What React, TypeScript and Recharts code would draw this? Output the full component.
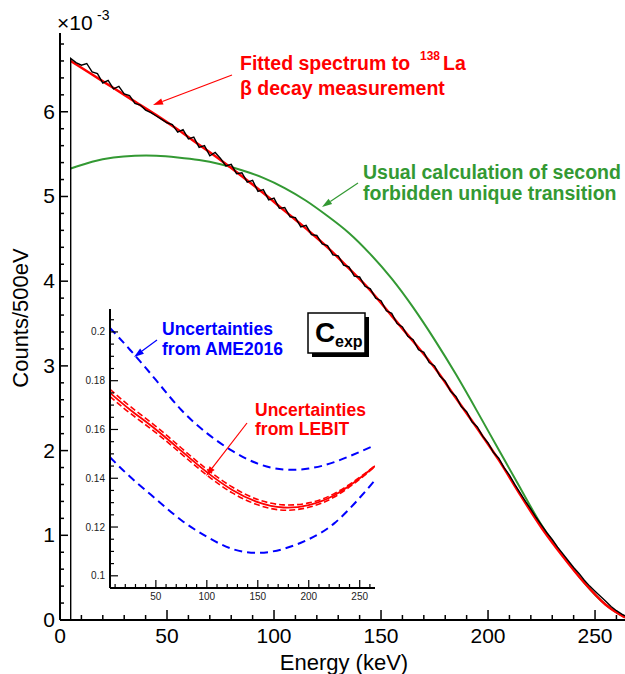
import {ComposedChart, Line, XAxis, YAxis} from 'recharts';

// main spectrum (Counts/500eV, in units of 1e-3)
const fitEnergy = [5, 15, 25, 35, 45, 55, 65, 75, 85, 95, 105, 115, 125, 135, 145, 155, 165, 175, 185, 195, 205, 215, 225, 235, 245, 255, 264];
const fitCounts = [6.60, 6.44, 6.28, 6.12, 5.96, 5.79, 5.61, 5.43, 5.24, 5.04, 4.83, 4.62, 4.40, 4.15, 3.89, 3.59, 3.29, 2.98, 2.62, 2.26, 1.89, 1.48, 1.09, 0.75, 0.44, 0.18, 0.03];
const calcCounts = [5.33, 5.41, 5.46, 5.48, 5.48, 5.46, 5.43, 5.38, 5.31, 5.22, 5.10, 4.95, 4.77, 4.57, 4.32, 4.03, 3.69, 3.31, 2.90, 2.46, 2.01, 1.56, 1.12, 0.76, 0.44, 0.18, 0.03];

const histEnergy = [5, 7.5, 10, 12.5, 15, 17.5, 20, 22.5, 25, 27.5, 30, 32.5, 35, 37.5, 40, 42.5, 45, 47.5, 50, 52.5,
  55, 57.5, 60, 62.5, 65, 67.5, 70, 72.5, 75, 77.5, 80, 82.5, 85, 87.5, 90, 92.5, 95, 97.5, 100, 102.5,
  105, 107.5, 110, 112.5, 115, 117.5, 120, 122.5, 125, 127.5, 130, 132.5, 135, 137.5, 140, 142.5, 145, 147.5, 150, 152.5,
  155, 157.5, 160, 162.5, 165, 167.5, 170, 172.5, 175, 177.5, 180, 182.5, 185, 187.5, 190, 192.5, 195, 197.5, 200, 202.5,
  205, 207.5, 210, 212.5, 215, 217.5, 220, 222.5, 225, 227.5, 230, 232.5, 235, 237.5, 240, 242.5, 245, 247.5, 250, 252.5,
  255, 257.5, 260, 262.5, 264];
const histCounts = [6.63, 6.58, 6.55, 6.57, 6.47, 6.45, 6.34, 6.37, 6.27, 6.30, 6.21, 6.19, 6.10, 6.08, 6.02, 5.99, 5.95, 5.91, 5.87, 5.85,
  5.76, 5.79, 5.68, 5.70, 5.58, 5.60, 5.48, 5.52, 5.45, 5.36, 5.38, 5.27, 5.28, 5.17, 5.19, 5.06, 5.08, 4.96, 4.98, 4.86,
  4.87, 4.76, 4.75, 4.64, 4.66, 4.55, 4.54, 4.44, 4.42, 4.31, 4.30, 4.19, 4.17, 4.06, 4.05, 3.94, 3.91, 3.80, 3.77, 3.65,
  3.62, 3.50, 3.46, 3.35, 3.31, 3.19, 3.16, 3.04, 3.00, 2.88, 2.82, 2.70, 2.64, 2.52, 2.46, 2.34, 2.28, 2.17, 2.09, 1.98,
  1.91, 1.80, 1.71, 1.60, 1.50, 1.40, 1.31, 1.21, 1.12, 1.03, 0.95, 0.86, 0.78, 0.70, 0.62, 0.55, 0.47, 0.40, 0.34, 0.28,
  0.22, 0.16, 0.11, 0.07, 0.05];

const mainXTicks = [0, 10, 20, 30, 40, 50, 60, 70, 80, 90, 100, 110, 120, 130, 140, 150, 160, 170, 180, 190, 200, 210, 220, 230, 240, 250, 260];
const mainYTicks = [0, 0.2, 0.4, 0.6, 0.8, 1, 1.2, 1.4, 1.6, 1.8, 2, 2.2, 2.4, 2.6, 2.8, 3, 3.2, 3.4, 3.6, 3.8, 4, 4.2, 4.4, 4.6, 4.8, 5, 5.2, 5.4, 5.6, 5.8, 6, 6.2, 6.4, 6.6, 6.8];

// inset: C_exp
const insetEnergy = [5, 25, 50, 75, 100, 125, 150, 175, 200, 225, 250, 265];
const lebitMid = [0.1750, 0.1680, 0.1600, 0.1512, 0.1425, 0.1352, 0.1302, 0.1280, 0.1290, 0.1330, 0.1400, 0.1450];
const lebitHigh = [0.1765, 0.1694, 0.1613, 0.1524, 0.1437, 0.1364, 0.1313, 0.1291, 0.1299, 0.1337, 0.1404, 0.1452];
const lebitLow = [0.1735, 0.1666, 0.1587, 0.1500, 0.1413, 0.1340, 0.1291, 0.1269, 0.1281, 0.1323, 0.1396, 0.1448];
const ameHigh = [0.2016, 0.1925, 0.1803, 0.1680, 0.1585, 0.1512, 0.1460, 0.1436, 0.1440, 0.1466, 0.1508, 0.1535];
const ameLow = [0.1486, 0.1405, 0.1315, 0.1228, 0.1160, 0.1110, 0.1094, 0.1110, 0.1150, 0.1215, 0.1320, 0.1392];

const insetXTicks = [10, 20, 30, 40, 50, 60, 70, 80, 90, 100, 110, 120, 130, 140, 150, 160, 170, 180, 190, 200, 210, 220, 230, 240, 250, 260];
const insetYTicks = [0.1, 0.105, 0.11, 0.115, 0.12, 0.125, 0.13, 0.135, 0.14, 0.145, 0.15, 0.155, 0.16, 0.165, 0.17, 0.175, 0.18, 0.185, 0.19, 0.195, 0.2, 0.205];
const insetYLabels = ['0.1', '0.12', '0.14', '0.16', '0.18', '0.2'];

const FONT = '"Liberation Sans", Arial, Helvetica, sans-serif';
const GREEN = '#339933';

const fitData = fitEnergy.map((e, i) => ({e, v: fitCounts[i]}));
const calcData = fitEnergy.map((e, i) => ({e, v: calcCounts[i]}));
const histData = [{e: histEnergy[0], v: 0}, ...histEnergy.map((e, i) => ({e, v: histCounts[i]}))];
const insetData = insetEnergy.map((e, i) => ({
    e, mid: lebitMid[i], hi: lebitHigh[i], lo: lebitLow[i], ameHi: ameHigh[i], ameLo: ameLow[i],
}));

const frame = {stroke: '#000', strokeWidth: 2};

const MainXTick = ({x, y, payload}: any) => {
    const major = payload.value % 50 === 0;
    return (
        <g>
            <line x1={x} y1={y} x2={x} y2={y - (major ? 10 : 5)} stroke="#000" strokeWidth={1.5}/>
            {major && <text x={x} y={y + 23} textAnchor="middle" fontSize={21} fontFamily={FONT} fill="#000">{payload.value}</text>}
        </g>
    );
};

const MainYTick = ({x, y, payload}: any) => {
    const major = Math.abs(payload.value - Math.round(payload.value)) < 1e-6;
    return (
        <g>
            <line x1={x} y1={y} x2={x + (major ? 8 : 4)} y2={y} stroke="#000" strokeWidth={1.5}/>
            {major && <text x={x - 5} y={y + 7} textAnchor="end" fontSize={21} fontFamily={FONT} fill="#000">{Math.round(payload.value)}</text>}
        </g>
    );
};

const InsetXTick = ({x, y, payload}: any) => {
    const major = payload.value % 50 === 0;
    return (
        <g>
            <line x1={x} y1={y} x2={x} y2={y - (major ? 8 : 4)} stroke="#000" strokeWidth={1.2}/>
            {major && <text x={x} y={y + 12} textAnchor="middle" fontSize={10} fontFamily={FONT} fill="#222">{payload.value}</text>}
        </g>
    );
};

const InsetYTick = ({x, y, payload}: any) => {
    const label = insetYLabels.find(l => Math.abs(parseFloat(l) - payload.value) < 1e-6);
    return (
        <g>
            <line x1={x} y1={y} x2={x + (label ? 8 : 4)} y2={y} stroke="#000" strokeWidth={1.2}/>
            {label && <text x={x - 5} y={y + 3.5} textAnchor="end" fontSize={10} fontFamily={FONT} fill="#222">{label}</text>}
        </g>
    );
};

function Arrow({x1, y1, x2, y2, color, head = 10}: { x1: number, y1: number, x2: number, y2: number, color: string, head?: number }) {
    const a = Math.atan2(y2 - y1, x2 - x1);
    const w = head * 0.32;
    const bx = x2 - head * Math.cos(a);
    const by = y2 - head * Math.sin(a);
    const pts = `${x2},${y2} ${bx + w * Math.sin(a)},${by - w * Math.cos(a)} ${bx - w * Math.sin(a)},${by + w * Math.cos(a)}`;
    return (
        <g>
            <line x1={x1} y1={y1} x2={bx} y2={by} stroke={color} strokeWidth={1.2}/>
            <polygon points={pts} fill={color}/>
        </g>
    );
}

export default function App() {
    return (
        <div style={{position: 'absolute', left: 0, top: 0, width: 625, height: 674, background: '#fff', overflow: 'hidden'}}>
            <div style={{position: 'absolute', left: 0, top: 0}}>
                <ComposedChart width={625} height={674} margin={{top: 33, right: 0, left: 0, bottom: 0}}>
                    <XAxis dataKey="e" type="number" domain={[0, 264]} allowDataOverflow ticks={mainXTicks} interval={0}
                           tickSize={0} tickMargin={0} tick={<MainXTick/>} height={54} axisLine={frame} tickLine={false}/>
                    <XAxis xAxisId="top" orientation="top" type="number" domain={[0, 264]} height={0} tick={false}
                           tickLine={false} axisLine={frame}/>
                    <YAxis type="number" domain={[0, 6.93]} allowDataOverflow ticks={mainYTicks} interval={0} width={60}
                           tickSize={0} tickMargin={0} tick={<MainYTick/>} axisLine={frame} tickLine={false}/>
                    <Line data={calcData} dataKey="v" type="natural" stroke={GREEN} strokeWidth={2} dot={false} isAnimationActive={false}/>
                    <Line data={fitData} dataKey="v" type="monotone" stroke="#ff0000" strokeWidth={2.5} dot={false} isAnimationActive={false}/>
                    <Line data={histData} dataKey="v" type="linear" stroke="#000" strokeWidth={1.4} dot={false} isAnimationActive={false}/>
                </ComposedChart>
            </div>
            <div style={{position: 'absolute', left: 60, top: 300}}>
                <ComposedChart width={330} height={320} data={insetData} margin={{top: 9, right: 15, left: 0, bottom: 0}}>
                    <XAxis dataKey="e" type="number" domain={[5, 265]} allowDataOverflow ticks={insetXTicks} interval={0}
                           tickSize={0} tickMargin={0} tick={<InsetXTick/>} height={32} axisLine={frame} tickLine={false}/>
                    <XAxis xAxisId="top" orientation="top" type="number" domain={[5, 265]} height={0} tick={false}
                           tickLine={false} axisLine={frame}/>
                    <YAxis type="number" domain={[0.095, 0.2094]} allowDataOverflow ticks={insetYTicks} interval={0} width={50}
                           tickSize={0} tickMargin={0} tick={<InsetYTick/>} axisLine={frame} tickLine={false}/>
                    <YAxis yAxisId="right" orientation="right" type="number" domain={[0.095, 0.2094]} width={0} tick={false}
                           tickLine={false} axisLine={frame}/>
                    <Line dataKey="ameHi" type="natural" stroke="#0000ff" strokeWidth={2} strokeDasharray="8 5" dot={false} isAnimationActive={false}/>
                    <Line dataKey="ameLo" type="natural" stroke="#0000ff" strokeWidth={2} strokeDasharray="8 5" dot={false} isAnimationActive={false}/>
                    <Line dataKey="hi" type="natural" stroke="#ff0000" strokeWidth={1.6} strokeDasharray="6 3" dot={false} isAnimationActive={false}/>
                    <Line dataKey="lo" type="natural" stroke="#ff0000" strokeWidth={1.6} strokeDasharray="6 3" dot={false} isAnimationActive={false}/>
                    <Line dataKey="mid" type="natural" stroke="#ff0000" strokeWidth={1.8} dot={false} isAnimationActive={false}/>
                </ComposedChart>
            </div>
            <svg width={625} height={674} style={{position: 'absolute', left: 0, top: 0, pointerEvents: 'none'}} fontFamily={FONT}>
                <text x={57} y={30} fontSize={21} fill="#000">×10</text>
                <text x={97} y={20} fontSize={14} fill="#000">-3</text>
                <text x={20} y={318} fontSize={22} fill="#000" textAnchor="middle" dominantBaseline="central"
                      transform="rotate(-90 20 318)">Counts/500eV</text>
                <text x={344} y={670} fontSize={22} fill="#000" textAnchor="middle">Energy (keV)</text>

                <g fill="#ff0000" fontWeight="bold">
                    <text x={240} y={70} fontSize={19.5}>Fitted spectrum to</text>
                    <text x={420} y={60} fontSize={12}>138</text>
                    <text x={443} y={70} fontSize={19.5}>La</text>
                    <text x={240} y={95} fontSize={19.5}>β decay measurement</text>
                </g>
                <Arrow x1={232} y1={75} x2={153} y2={105} color="#ff0000"/>

                <g fill={GREEN} fontWeight="bold" fontSize={19.5}>
                    <text x={363} y={179}>Usual calculation of second</text>
                    <text x={363} y={200}>forbidden unique transition</text>
                </g>
                <Arrow x1={358} y1={183} x2={322} y2={207} color={GREEN}/>

                <g fill="#0000ff" fontWeight="bold" fontSize={17.5}>
                    <text x={162} y={335}>Uncertainties</text>
                    <text x={162} y={355}>from AME2016</text>
                </g>
                <Arrow x1={157} y1={340} x2={134} y2={357} color="#0000ff"/>

                <g fill="#ff0000" fontWeight="bold" fontSize={17.5}>
                    <text x={255} y={416}>Uncertainties</text>
                    <text x={255} y={435}>from LEBIT</text>
                </g>
                <Arrow x1={247} y1={423} x2={206} y2={476} color="#ff0000"/>

                <rect x={312} y={317} width={57} height={40} fill="#000"/>
                <rect x={308} y={313} width={57} height={40} fill="#fff" stroke="#000" strokeWidth={1.5}/>
                <text x={315} y={342} fontSize={28} fontWeight="bold" fill="#000">C</text>
                <text x={335} y={347} fontSize={16} fontWeight="bold" fill="#000">exp</text>
            </svg>
        </div>
    );
}
